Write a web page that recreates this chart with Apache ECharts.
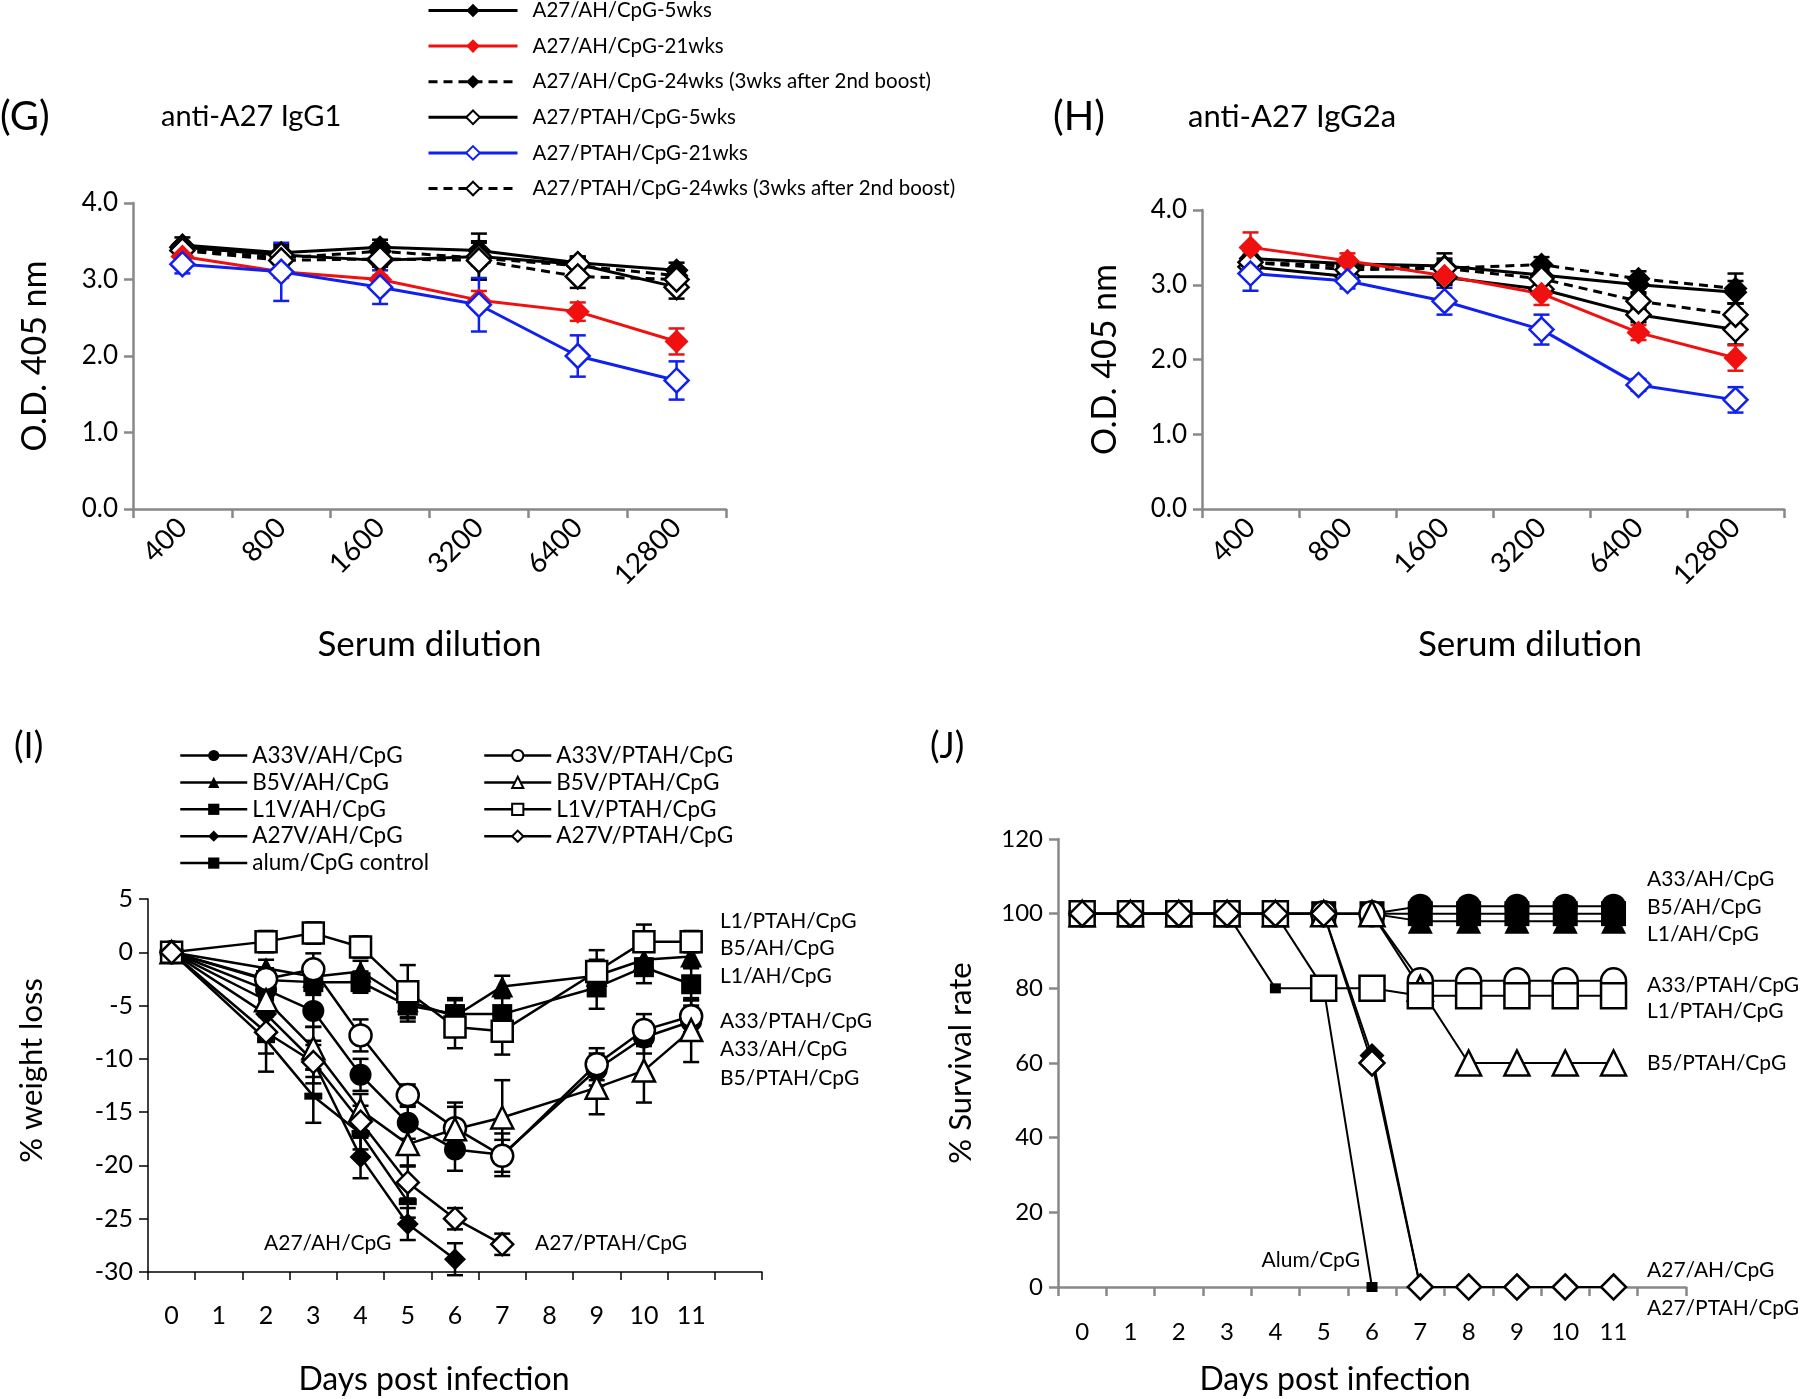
<!DOCTYPE html>
<html><head><meta charset="utf-8">
<script src="https://cdn.jsdelivr.net/npm/echarts@6/dist/echarts.min.js"></script>
<style>html,body{margin:0;padding:0;background:#fff}#c{width:1800px;height:1399px}</style>
</head><body><div id="c"></div>
<script>
// ---------- data ----------
const dilutions = ['400','800','1600','3200','6400','12800'];
const gNames = ['A27/AH/CpG-5wks','A27/AH/CpG-21wks','A27/AH/CpG-24wks (3wks after 2nd boost)',
  'A27/PTAH/CpG-5wks','A27/PTAH/CpG-21wks','A27/PTAH/CpG-24wks (3wks after 2nd boost)'];
// panel G (IgG1)
const gAH5  = [3.45, 3.35, 3.42, 3.38, 3.22, 3.12];
const gAH21 = [3.30, 3.10, 3.00, 2.73, 2.58, 2.19];
const gAH24 = [3.40, 3.28, 3.37, 3.28, 3.18, 3.05];
const gPT5  = [3.42, 3.32, 3.25, 3.30, 3.20, 2.90];
const gPT21 = [3.20, 3.10, 2.90, 2.67, 2.00, 1.68];
const gPT24 = [3.38, 3.25, 3.27, 3.25, 3.04, 3.00];
const gErrAH5  = [0.10, 0.10, 0.10, 0.10, 0.08, 0.10];
const gErrAH21 = [0.05, 0.08, 0.05, 0.12, 0.12, 0.17];
const gErrAH24 = [0.08, 0.10, 0.10, 0.10, 0.10, 0.10];
const gErrPT5  = [0.05, 0.10, 0.08, 0.30, 0.10, 0.15];
const gErrPT21 = [0.12, 0.38, 0.22, 0.35, 0.27, 0.25];
const gErrPT24 = [0.05, 0.10, 0.10, 0.25, 0.15, 0.10];
// panel H (IgG2a)
const hAH5  = [3.35, 3.28, 3.25, 3.13, 3.00, 2.90];
const hAH21 = [3.50, 3.32, 3.12, 2.88, 2.36, 2.02];
const hAH24 = [3.30, 3.25, 3.22, 3.27, 3.08, 2.95];
const hPT5  = [3.24, 3.11, 3.10, 2.94, 2.60, 2.40];
const hPT21 = [3.15, 3.05, 2.78, 2.40, 1.66, 1.46];
const hPT24 = [3.30, 3.20, 3.22, 3.08, 2.78, 2.60];
const hErrAH5  = [0.10, 0.08, 0.10, 0.08, 0.10, 0.15];
const hErrAH21 = [0.20, 0.10, 0.08, 0.15, 0.10, 0.17];
const hErrAH24 = [0.10, 0.08, 0.20, 0.10, 0.10, 0.20];
const hErrPT5  = [0.08, 0.05, 0.10, 0.10, 0.10, 0.20];
const hErrPT21 = [0.23, 0.10, 0.18, 0.20, 0.08, 0.17];
const hErrPT24 = [0.05, 0.05, 0.10, 0.10, 0.10, 0.15];

// panel I (weight loss), days 0..12
const days = ['0','1','2','3','4','5','6','7','8','9','10','11',''];
const iNamesAH = ['A33V/AH/CpG','B5V/AH/CpG','L1V/AH/CpG','A27V/AH/CpG','alum/CpG control'];
const iNamesPT = ['A33V/PTAH/CpG','B5V/PTAH/CpG','L1V/PTAH/CpG','A27V/PTAH/CpG'];
const iA33AH = [0, null, -3.5, -5.5, -11.5, -16.0, -18.5, -19.0, null, -11.0, -8.0, -6.5, null];
const iB5AH  = [0, null, -1.5, -2.3, -1.8, -4.6, -6.0, -3.2, null, -2.2, -0.7, -0.4, null];
const iL1AH  = [0, null, -2.6, -2.8, -2.8, -5.0, -5.8, -5.8, null, -3.3, -1.4, -3.0, null];
const iA27AH = [0, null, -5.8, -10.2, -19.2, -25.5, -28.8, null, null, null, null, null, null];
const iAlum  = [0, null, -8.2, -13.5, -17.0, -23.4, null, null, null, null, null, null, null];
const iA33PT = [0, null, -2.5, -1.6, -7.8, -13.4, -16.5, -19.1, null, -10.5, -7.3, -6.0, null];
const iB5PT  = [0, null, -4.5, -9.0, -14.8, -18.0, -16.6, -15.5, null, -12.7, -11.1, -7.3, null];
const iL1PT  = [0, null, 1.0, 1.8, 0.5, -3.7, -7.0, -7.4, null, -1.8, 1.0, 1.0, null];
const iA27PT = [0, null, -7.5, -10.3, -15.9, -21.6, -25.0, -27.4, null, null, null, null, null];
const iErrA33AH = [0, null, 1.0, 1.5, 1.5, 1.5, 2.0, 2.0, null, 1.5, 1.5, 1.5, null];
const iErrB5AH  = [0, null, 0.8, 1.0, 1.0, 1.5, 1.5, 1.0, null, 1.5, 1.0, 1.0, null];
const iErrL1AH  = [0, null, 1.0, 1.0, 1.0, 1.5, 1.5, 1.5, null, 2.0, 1.5, 1.5, null];
const iErrA27AH = [0, null, 1.5, 1.5, 2.0, 1.5, 1.5, null, null, null, null, null, null];
const iErrAlum  = [0, null, 3.0, 2.5, 1.5, 1.5, null, null, null, null, null, null, null];
const iErrA33PT = [0, null, 1.0, 1.5, 1.5, 1.0, 2.0, 1.5, null, 1.5, 1.5, 1.5, null];
const iErrB5PT  = [0, null, 1.5, 2.0, 1.5, 2.0, 2.5, 3.5, null, 2.5, 3.0, 3.0, null];
const iErrL1PT  = [0, null, 1.0, 1.0, 1.0, 2.5, 2.0, 2.2, null, 2.0, 1.6, 1.0, null];
const iErrA27PT = [0, null, 2.0, 2.0, 1.5, 1.5, 1.0, 1.0, null, null, null, null, null];

// panel J (survival), days 0..12
const jA33AH = [100,100,100,100,100,100,100,102,102,102,102,102,null];
const jB5AH  = [100,100,100,100,100,100,100, 98, 98, 98, 98, 98,null];
const jL1AH  = [100,100,100,100,100,100,100,100,100,100,100,100,null];
const jA27AH = [100,100,100,100,100,100, 62,  0,  0,  0,  0,  0,null];
const jAlum  = [100,100,100,100, 80, 80,  0,null,null,null,null,null,null];
const jA33PT = [100,100,100,100,100,100,100, 82, 82, 82, 82, 82,null];
const jB5PT  = [100,100,100,100,100,100,100, 80, 60, 60, 60, 60,null];
const jL1PT  = [100,100,100,100,100, 80, 80, 78, 78, 78, 78, 78,null];
const jA27PT = [100,100,100,100,100,100, 60,  0,  0,  0,  0,  0,null];

// ---------- helpers ----------
const FONT = 'Lato';
const RED = '#f01010', BLUE = '#1020f0';

function line(name, data, gi, sty) {
  return {
    type: 'line', name, data, xAxisIndex: gi, yAxisIndex: gi,
    symbol: sty.symbol, symbolSize: sty.size, showAllSymbol: true, connectNulls: true,
    lineStyle: { color: sty.color, width: sty.lw, type: sty.dash ? [9, 6] : 'solid' },
    itemStyle: { color: sty.open ? '#fff' : sty.color, borderColor: sty.color, borderWidth: sty.open ? 2.5 : 0 },
    emphasis: { disabled: true }, animation: false, z: sty.z || 3
  };
}
function errRender(params, api) {
  const i = api.value(0), v = api.value(1), e = api.value(2);
  const hi = api.coord([i, v + e]), lo = api.coord([i, v - e]);
  const w = 8;
  const st = { stroke: api.visual('color'), lineWidth: 2.5 };
  return { type: 'group', children: [
    { type: 'line', shape: { x1: hi[0], y1: hi[1], x2: lo[0], y2: lo[1] }, style: st },
    { type: 'line', shape: { x1: hi[0] - w, y1: hi[1], x2: hi[0] + w, y2: hi[1] }, style: st },
    { type: 'line', shape: { x1: lo[0] - w, y1: lo[1], x2: lo[0] + w, y2: lo[1] }, style: st }
  ]};
}
function err(vals, errs, gi, color) {
  const data = [];
  vals.forEach((v, i) => { if (v != null && errs[i] != null && errs[i] > 0) data.push([i, v, errs[i]]); });
  return { type: 'custom', name: 'err', data, xAxisIndex: gi, yAxisIndex: gi, renderItem: errRender,
    encode: { x: 0, y: 1 }, itemStyle: { color }, z: 2, silent: true, animation: false };
}

const GRAY = '#888';
function grayAxisStyle(w) {
  return { axisLine: { show: true, onZero: false, lineStyle: { color: GRAY, width: w } },
           axisTick: { show: true, length: 9, lineStyle: { color: GRAY, width: w } } };
}
const lbl = (size, extra) => Object.assign({ color: '#000', fontFamily: FONT, fontSize: size }, extra || {});

// ---------- styles ----------
const sG = [
  { symbol: 'diamond', size: 24, color: '#000', lw: 3 },
  { symbol: 'diamond', size: 24, color: RED, lw: 3 },
  { symbol: 'diamond', size: 24, color: '#000', lw: 3, dash: true },
  { symbol: 'diamond', size: 24, color: '#000', lw: 3, open: true },
  { symbol: 'diamond', size: 24, color: BLUE, lw: 3, open: true },
  { symbol: 'diamond', size: 24, color: '#000', lw: 3, dash: true, open: true }
];
const gVals = [gAH5, gAH21, gAH24, gPT5, gPT21, gPT24];
const gErrs = [gErrAH5, gErrAH21, gErrAH24, gErrPT5, gErrPT21, gErrPT24];
const hVals = [hAH5, hAH21, hAH24, hPT5, hPT21, hPT24];
const hErrs = [hErrAH5, hErrAH21, hErrAH24, hErrPT5, hErrPT21, hErrPT24];
const drawOrder = [0, 2, 3, 5, 1, 4];

const dashSym = 'path://M0,0 L16,0 L16,6 L0,6 Z';
const sI = {
  A33AH: { symbol: 'circle', size: 22, color: '#000', lw: 2.5 },
  B5AH:  { symbol: 'triangle', size: 22, color: '#000', lw: 2.5 },
  L1AH:  { symbol: 'rect', size: 20, color: '#000', lw: 2.5 },
  A27AH: { symbol: 'diamond', size: 22, color: '#000', lw: 2.5 },
  Alum:  { symbol: dashSym, size: [18, 7], color: '#000', lw: 2.5 },
  A33PT: { symbol: 'circle', size: 22, color: '#000', lw: 2.5, open: true },
  B5PT:  { symbol: 'triangle', size: 22, color: '#000', lw: 2.5, open: true },
  L1PT:  { symbol: 'rect', size: 21, color: '#000', lw: 2.5, open: true },
  A27PT: { symbol: 'diamond', size: 22, color: '#000', lw: 2.5, open: true }
};
const sJ = {};
Object.keys(sI).forEach(k => { sJ[k] = Object.assign({}, sI[k], { lw: 2, size: k === 'Alum' ? [11, 10] : 25 }); });
sJ.Alum.symbol = 'rect';

// ---------- series ----------
const series = [];
drawOrder.forEach(k => series.push(err(gVals[k], gErrs[k], 0, sG[k].color)));
drawOrder.forEach(k => series.push(line(gNames[k], gVals[k], 0, sG[k])));
drawOrder.forEach(k => series.push(err(hVals[k], hErrs[k], 1, sG[k].color)));
drawOrder.forEach(k => series.push(line(gNames[k], hVals[k], 1, sG[k])));

const iList = [
  ['A33V/AH/CpG', iA33AH, iErrA33AH, 'A33AH'], ['B5V/AH/CpG', iB5AH, iErrB5AH, 'B5AH'],
  ['L1V/AH/CpG', iL1AH, iErrL1AH, 'L1AH'], ['A27V/AH/CpG', iA27AH, iErrA27AH, 'A27AH'],
  ['alum/CpG control', iAlum, iErrAlum, 'Alum'], ['A33V/PTAH/CpG', iA33PT, iErrA33PT, 'A33PT'],
  ['B5V/PTAH/CpG', iB5PT, iErrB5PT, 'B5PT'], ['L1V/PTAH/CpG', iL1PT, iErrL1PT, 'L1PT'],
  ['A27V/PTAH/CpG', iA27PT, iErrA27PT, 'A27PT']
];
iList.forEach(r => series.push(err(r[1], r[2], 2, '#000')));
iList.forEach(r => series.push(line(r[0], r[1], 2, sI[r[3]])));

const jList = [
  ['J-L1AH', jL1AH, 'L1AH'], ['J-B5AH', jB5AH, 'B5AH'], ['J-A33AH', jA33AH, 'A33AH'],
  ['J-A27AH', jA27AH, 'A27AH'], ['J-Alum', jAlum, 'Alum'], ['J-A33PT', jA33PT, 'A33PT'],
  ['J-B5PT', jB5PT, 'B5PT'], ['J-L1PT', jL1PT, 'L1PT'], ['J-A27PT', jA27PT, 'A27PT']
];
jList.forEach(r => series.push(line(r[0], r[1], 3, sJ[r[2]])));

// ---------- annotations ----------
function txt(s, x, y, size, align) {
  return { type: 'text', x, y, silent: true,
    style: { text: s, fill: '#000', font: size + 'px ' + FONT, textAlign: align || 'left', textVerticalAlign: 'middle' } };
}
const graphic = [
  txt('(G)', 0, 117, 40), txt('anti-A27 IgG1', 161, 117, 29),
  txt('(H)', 1053, 117, 40), txt('anti-A27 IgG2a', 1188, 117, 31),
  txt('(I)', 14, 746, 36), txt('(J)', 930, 746, 36),
  txt('L1/PTAH/CpG', 720, 921, 21), txt('B5/AH/CpG', 720, 948, 21), txt('L1/AH/CpG', 720, 976, 21),
  txt('A33/PTAH/CpG', 720, 1021, 21), txt('A33/AH/CpG', 720, 1049, 21), txt('B5/PTAH/CpG', 720, 1078, 21),
  txt('A27/AH/CpG', 264, 1243, 21), txt('A27/PTAH/CpG', 535, 1243, 21),
  txt('A33/AH/CpG', 1647, 879, 21), txt('B5/AH/CpG', 1647, 907, 21), txt('L1/AH/CpG', 1647, 934, 21),
  txt('A33/PTAH/CpG', 1647, 985, 21), txt('L1/PTAH/CpG', 1647, 1011, 21), txt('B5/PTAH/CpG', 1647, 1063, 21),
  txt('A27/AH/CpG', 1647, 1270, 21), txt('A27/PTAH/CpG', 1647, 1308, 21),
  txt('Alum/CpG', 1360, 1260, 21, 'right')
];

const nameStyle = (size, pad) => ({ color: '#000', fontFamily: FONT, fontSize: size, padding: pad || 0 });

const option = {
  animation: false,
  backgroundColor: '#fff',
  grid: [
    { left: 133, top: 203, width: 593, height: 306, outerBoundsMode: 'none' },
    { left: 1202, top: 210, width: 582, height: 299, outerBoundsMode: 'none' },
    { left: 148, top: 899, width: 614, height: 373, outerBoundsMode: 'none' },
    { left: 1058, top: 839, width: 628, height: 448, outerBoundsMode: 'none' }
  ],
  xAxis: [
    Object.assign({ type: 'category', gridIndex: 0, data: dilutions,
      axisLabel: lbl(28, { rotate: 45, margin: 14 }),
      name: 'Serum dilution', nameLocation: 'middle', nameGap: 118, nameTextStyle: nameStyle(35) }, grayAxisStyle(2.5)),
    Object.assign({ type: 'category', gridIndex: 1, data: dilutions,
      axisLabel: lbl(28, { rotate: 45, margin: 14 }),
      name: 'Serum dilution', nameLocation: 'middle', nameGap: 118, nameTextStyle: nameStyle(35, [0, 0, 0, 74]) }, grayAxisStyle(2.5)),
    { type: 'category', gridIndex: 2, data: days,
      axisLine: { show: true, onZero: false, lineStyle: { color: '#000', width: 1.5 } },
      axisTick: { show: true, length: 8, lineStyle: { color: '#000', width: 1.5 } },
      axisLabel: lbl(25, { margin: 31, interval: 0 }),
      name: 'Days post infection', nameLocation: 'middle', nameGap: 92, nameTextStyle: nameStyle(32, [0, 42, 0, 0]) },
    Object.assign({ type: 'category', gridIndex: 3, data: days,
      axisLabel: lbl(24, { margin: 33, interval: 0 }),
      name: 'Days post infection', nameLocation: 'middle', nameGap: 77, nameTextStyle: nameStyle(32, [0, 74, 0, 0]) }, grayAxisStyle(2.5))
  ],
  yAxis: [
    Object.assign({ type: 'value', gridIndex: 0, min: 0, max: 4, interval: 1, splitLine: { show: false },
      axisLabel: lbl(26, { margin: 15, formatter: v => v.toFixed(1) }),
      name: 'O.D. 405 nm', nameLocation: 'middle', nameRotate: 90, nameGap: 81, nameTextStyle: nameStyle(34) }, grayAxisStyle(2.5)),
    Object.assign({ type: 'value', gridIndex: 1, min: 0, max: 4, interval: 1, splitLine: { show: false },
      axisLabel: lbl(26, { margin: 15, formatter: v => v.toFixed(1) }),
      name: 'O.D. 405 nm', nameLocation: 'middle', nameRotate: 90, nameGap: 80, nameTextStyle: nameStyle(34) }, grayAxisStyle(2.5)),
    { type: 'value', gridIndex: 2, min: -30, max: 5, interval: 5, splitLine: { show: false },
      axisLine: { show: true, onZero: false, lineStyle: { color: '#000', width: 1.5 } },
      axisTick: { show: true, length: 9, lineStyle: { color: '#000', width: 1.5 } },
      axisLabel: lbl(25, { margin: 15 }),
      name: '% weight loss', nameLocation: 'middle', nameRotate: 90, nameGap: 101, nameTextStyle: nameStyle(31, [0, 0, 0, 30]) },
    Object.assign({ type: 'value', gridIndex: 3, min: 0, max: 120, interval: 20, splitLine: { show: false },
      axisLabel: lbl(24, { margin: 15 }),
      name: '% Survival rate', nameLocation: 'middle', nameRotate: 90, nameGap: 82, nameTextStyle: nameStyle(31) }, grayAxisStyle(2.5))
  ],
  legend: [
    { data: gNames, orient: 'vertical', left: 422, top: -5, itemWidth: 89, itemHeight: 17, itemGap: 14.6,
      selectedMode: false, lineStyle: { width: 3 },
      textStyle: { color: '#000', fontFamily: FONT, fontSize: 20.5, padding: [0, 0, 0, 10] } },
    { data: iNamesAH, orient: 'vertical', left: 174, top: 739, itemWidth: 67, itemHeight: 14, itemGap: 3.9,
      selectedMode: false, lineStyle: { width: 2.5 },
      textStyle: { color: '#000', fontFamily: FONT, fontSize: 22.5, padding: [0, 0, 0, 0] } },
    { data: iNamesPT, orient: 'vertical', left: 478, top: 739, itemWidth: 67, itemHeight: 14, itemGap: 3.9,
      selectedMode: false, lineStyle: { width: 2.5 },
      textStyle: { color: '#000', fontFamily: FONT, fontSize: 22.5, padding: [0, 0, 0, 0] } }
  ],
  graphic,
  series
};
const chart = echarts.init(document.getElementById('c'), null, { renderer: 'canvas' });
chart.setOption(option);
</script></body></html>
